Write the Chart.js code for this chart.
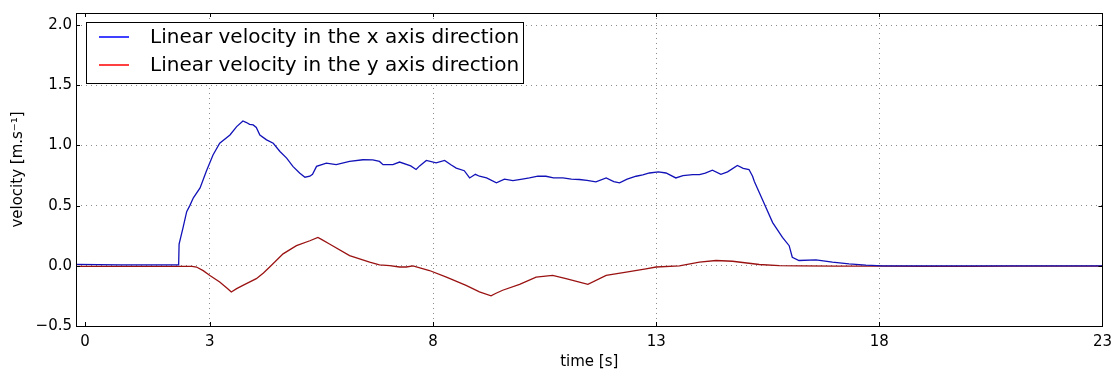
<!DOCTYPE html>
<html><head><meta charset="utf-8">
<script src="https://cdn.jsdelivr.net/npm/chart.js@4.4.0/dist/chart.umd.min.js"></script>
<style>html,body{margin:0;padding:0;background:#fff;} canvas{display:block}</style>
</head><body>
<canvas id="c" width="1119" height="374"></canvas>
<script>
const seriesLabels = ['Linear velocity in the x axis direction', 'Linear velocity in the y axis direction'];

const vxTime = [0,0.5,1.0,1.5,2.0,2.30,2.31,2.40,2.48,2.55,2.63,2.78,2.92,3.07,3.22,3.45,3.60,3.74,3.82,3.89,3.97,4.04,4.12,4.27,4.42,4.57,4.72,4.86,5.01,5.13,5.24,5.30,5.39,5.61,5.83,6.13,6.43,6.65,6.80,6.88,7.10,7.25,7.50,7.62,7.70,7.85,8.07,8.26,8.40,8.52,8.70,8.82,8.95,9.04,9.20,9.42,9.60,9.79,10.00,10.16,10.35,10.53,10.70,10.91,11.10,11.28,11.45,11.65,11.88,12.05,12.18,12.35,12.55,12.70,12.85,13.05,13.22,13.44,13.60,13.82,13.97,14.10,14.26,14.45,14.60,14.82,14.95,15.08,15.16,15.20,15.38,15.61,15.83,15.98,16.05,16.20,16.58,16.95,17.32,17.70,18.07,18.5,19,20,21,22,23];
const vxValue = [0.012,0.010,0.008,0.008,0.008,0.008,0.18,0.32,0.45,0.50,0.565,0.647,0.785,0.92,1.018,1.087,1.156,1.203,1.19,1.175,1.17,1.15,1.087,1.046,1.018,0.95,0.895,0.826,0.771,0.736,0.744,0.76,0.826,0.853,0.84,0.867,0.881,0.88,0.867,0.84,0.84,0.862,0.83,0.80,0.83,0.875,0.855,0.875,0.84,0.812,0.79,0.73,0.76,0.744,0.73,0.69,0.72,0.708,0.72,0.73,0.745,0.744,0.73,0.73,0.72,0.717,0.71,0.697,0.73,0.70,0.689,0.72,0.744,0.755,0.771,0.78,0.771,0.73,0.75,0.758,0.758,0.77,0.795,0.76,0.78,0.834,0.81,0.80,0.744,0.70,0.55,0.359,0.236,0.167,0.071,0.044,0.049,0.03,0.016,0.005,0.0,0.0,0.0,0.0,0.0,0.0,0.0];

const vyTime = [0,1.0,2.0,2.60,2.70,2.85,3.0,3.22,3.40,3.48,3.60,3.74,4.04,4.20,4.34,4.64,4.94,5.24,5.42,5.50,5.68,6.13,6.58,6.80,7.03,7.25,7.40,7.55,7.92,8.30,8.74,9.04,9.30,9.40,9.56,9.94,10.31,10.68,10.98,11.28,11.47,11.88,12.33,12.77,13.0,13.52,13.97,14.34,14.71,15.31,15.76,16.2,17,18,19,20,21,22,23];
const vyValue = [-0.005,-0.005,-0.005,-0.005,-0.01,-0.04,-0.08,-0.135,-0.19,-0.217,-0.19,-0.162,-0.107,-0.06,-0.01,0.099,0.167,0.208,0.236,0.22,0.181,0.085,0.03,0.008,0.002,-0.01,-0.01,0.0,-0.039,-0.094,-0.162,-0.217,-0.25,-0.23,-0.203,-0.154,-0.094,-0.08,-0.107,-0.135,-0.154,-0.08,-0.053,-0.025,-0.01,0.0,0.03,0.044,0.038,0.011,0.002,0.0,-0.003,-0.003,-0.005,-0.005,-0.003,-0.003,-0.003];

const xTickValues = [0.2, 3, 8, 13, 18, 23];
const xTickLabels = ['0', '3', '8', '13', '18', '23'];
const yTickValues = [-0.5, 0, 0.5, 1, 1.5, 2];
const yTickLabels = ['\u22120.5', '0.0', '0.5', '1.0', '1.5', '2.0'];

const FONT = "'DejaVu Sans', sans-serif";
const lineColors = ['#1212b8', '#9a1212'];
const legendColors = ['#0000ff', '#ff0000'];

function pts(t, v) { return t.map((x, i) => ({x: x, y: v[i]})); }

const framePlugin = {
  id: 'frame',
  afterDraw(chart) {
    const ctx = chart.ctx, a = chart.chartArea;
    const xs = chart.scales.x, ys = chart.scales.y;
    ctx.save();
    ctx.strokeStyle = '#000';
    ctx.lineWidth = 1;
    ctx.beginPath();
    xTickValues.forEach(v => {
      const px = Math.round(xs.getPixelForValue(v)) + 0.5;
      ctx.moveTo(px, a.bottom); ctx.lineTo(px, a.bottom - 4);
      ctx.moveTo(px, a.top); ctx.lineTo(px, a.top + 4);
    });
    yTickValues.forEach(v => {
      const py = Math.round(ys.getPixelForValue(v)) + 0.5;
      ctx.moveTo(a.left, py); ctx.lineTo(a.left + 4, py);
      ctx.moveTo(a.right, py); ctx.lineTo(a.right - 4, py);
    });
    ctx.stroke();
    ctx.strokeRect(Math.round(a.left) + 0.5, Math.round(a.top) + 0.5, Math.round(a.right - a.left), Math.round(a.bottom - a.top));
    const bx = 86.5, by = 22.5, bw = 437, bh = 61;
    ctx.fillStyle = '#fff';
    ctx.fillRect(bx, by, bw, bh);
    ctx.strokeRect(bx, by, bw, bh);
    ctx.font = '20px ' + FONT;
    ctx.textBaseline = 'middle';
    ctx.textAlign = 'left';
    const rows = [37, 65];
    chart.data.datasets.forEach((ds, i) => {
      ctx.strokeStyle = legendColors[i];
      ctx.lineWidth = 1.5;
      ctx.beginPath();
      ctx.moveTo(99, rows[i]); ctx.lineTo(129, rows[i]);
      ctx.stroke();
      ctx.fillStyle = '#000';
      ctx.fillText(ds.label, 150, rows[i] + 1);
    });
    ctx.restore();
  }
};

new Chart(document.getElementById('c'), {
  type: 'line',
  data: {
    datasets: [
      {label: seriesLabels[0], data: pts(vxTime, vxValue), borderColor: lineColors[0], borderWidth: 1.3, pointRadius: 0, tension: 0, fill: false},
      {label: seriesLabels[1], data: pts(vyTime, vyValue), borderColor: lineColors[1], borderWidth: 1.3, pointRadius: 0, tension: 0, fill: false}
    ]
  },
  options: {
    responsive: false,
    animation: false,
    devicePixelRatio: 1,
    layout: {padding: {left: 0, right: 15, top: 12, bottom: 0}},
    plugins: {legend: {display: false}, tooltip: {enabled: false}},
    scales: {
      x: {
        type: 'linear', min: 0, max: 23,
        afterBuildTicks: s => { s.ticks = xTickValues.map(v => ({value: v})); },
        afterFit: s => { s.height = 48; },
        ticks: {
          autoSkip: false, maxRotation: 0, padding: 7, color: '#000',
          font: {family: FONT, size: 15},
          callback: (v, i) => xTickLabels[i]
        },
        grid: {
          drawTicks: false,
          color: ctx => (ctx.index === 0 ? 'rgba(0,0,0,0)' : 'rgba(0,0,0,0.45)'),
          lineWidth: 1
        },
        border: {display: false, dash: [1, 4]},
        title: {display: true, text: 'time [s]', color: '#000', font: {family: FONT, size: 15}, padding: {top: 0, bottom: 3}}
      },
      y: {
        type: 'linear', min: -0.5, max: 2.1,
        afterBuildTicks: s => { s.ticks = yTickValues.map(v => ({value: v})); },
        afterFit: s => { s.width = 76; },
        ticks: {
          padding: 4, color: '#000',
          font: {family: FONT, size: 15},
          callback: (v, i) => yTickLabels[i]
        },
        grid: {drawTicks: false, color: 'rgba(0,0,0,0.45)', lineWidth: 1},
        border: {display: false, dash: [1, 4]},
        title: {display: true, text: 'velocity [m.s\u207B\u00B9]', color: '#000', font: {family: FONT, size: 15}, padding: {top: 9, bottom: 0}}
      }
    }
  },
  plugins: [framePlugin]
});
</script>
</body></html>
